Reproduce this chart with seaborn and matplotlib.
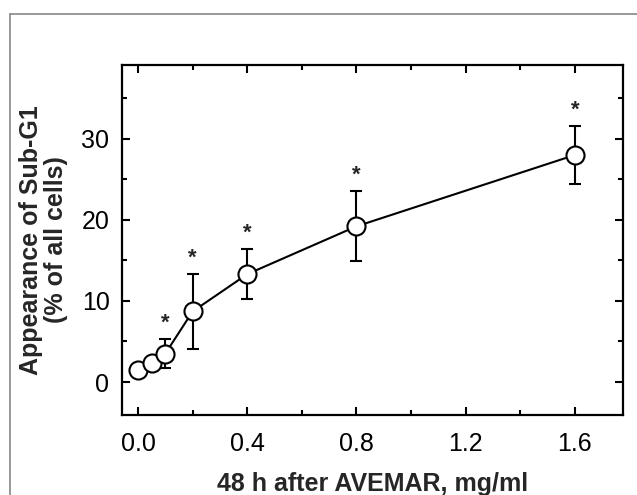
import matplotlib
matplotlib.use("Agg")
import matplotlib.pyplot as plt
from matplotlib.lines import Line2D
from matplotlib.ticker import MultipleLocator, FormatStrFormatter
import seaborn as sns
import pandas as pd

dose = [0.0, 0.05, 0.1, 0.2, 0.4, 0.8, 1.6]
subg1 = [1.5, 2.3, 3.5, 8.7, 13.3, 19.2, 28.0]
sem = [0.6, 0.6, 1.8, 4.6, 3.1, 4.3, 3.6]
signif = [False, False, True, True, True, True, True]

sns.set_style("ticks")
plt.rcParams['font.family'] = ['Liberation Sans', 'DejaVu Sans']

df = pd.DataFrame({"dose": dose, "subg1": subg1})

fig = plt.figure(figsize=(6.37, 4.95), dpi=100)
ax = fig.add_axes([122/637, 1 - 415/495, (623 - 122)/637, (415 - 65)/495])

ax.errorbar(dose, subg1, yerr=sem, fmt='none', ecolor='black',
            elinewidth=1.5, capsize=4.5, capthick=1.5, zorder=2)
sns.lineplot(data=df, x="dose", y="subg1", ax=ax, color='black', lw=1.5,
             marker='o', markersize=13, markerfacecolor='white',
             markeredgecolor='black', markeredgewidth=1.5, zorder=3)

for x, y, e, s in zip(dose, subg1, sem, signif):
    if s:
        ax.annotate('*', (x, y + e), xytext=(0, 4), textcoords='offset points',
                    ha='center', va='bottom', fontsize=16, fontweight='bold')

ax.set_xlim(-0.0586, 1.776)
ax.set_ylim(-4.07, 39.1)
ax.xaxis.set_major_locator(MultipleLocator(0.4))
ax.xaxis.set_minor_locator(MultipleLocator(0.2))
ax.yaxis.set_major_locator(MultipleLocator(10))
ax.yaxis.set_minor_locator(MultipleLocator(5))
ax.xaxis.set_major_formatter(FormatStrFormatter('%.1f'))

ax.tick_params(which='both', direction='in', top=True, right=True,
               width=1.5, labelsize=18, colors='black')
ax.tick_params(which='major', length=6, pad=9)
ax.tick_params(axis='x', which='major', pad=12)
ax.tick_params(which='minor', length=3.5)
for sp in ax.spines.values():
    sp.set_linewidth(1.6)
    sp.set_color('black')
    sp.set_visible(True)

ax.set_xlabel("48 h after AVEMAR, mg/ml", fontsize=18, fontweight='bold', labelpad=12)
ax.set_ylabel("Appearance of Sub-G1\n(% of all cells)", fontsize=18,
              fontweight='bold', labelpad=10, linespacing=1.05)

# outer gray frame
fig.lines.append(Line2D([10/637, 10/637], [0, 1 - 14/495], transform=fig.transFigure,
                        color='#888888', lw=1.2))
fig.lines.append(Line2D([10/637, 1], [1 - 14/495, 1 - 14/495], transform=fig.transFigure,
                        color='#888888', lw=1.2))

fig.savefig("out.png", dpi=100, facecolor='white')
